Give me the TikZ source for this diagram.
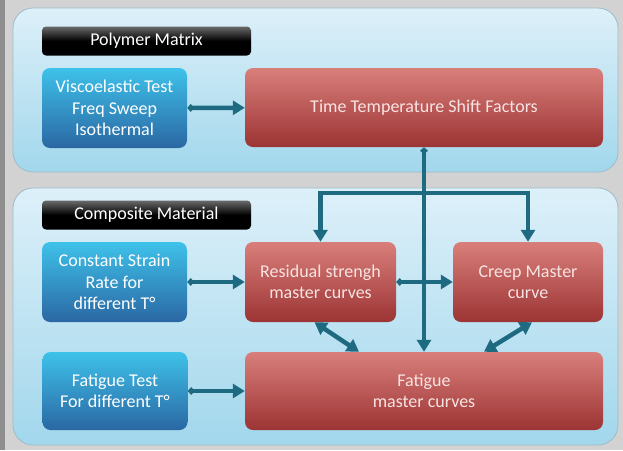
\documentclass[tikz,border=0pt]{standalone}
\usepackage{fontspec}
\setmainfont{Carlito}
\usepackage{xcolor}
\usepackage{tikz}
\usetikzlibrary{arrows.meta}
\definecolor{slidegray}{HTML}{D2D2D2}
\definecolor{stripgray}{HTML}{8E8E8E}
\definecolor{paneltop}{HTML}{DDF0F9}
\definecolor{panelbottom}{HTML}{A2D7EC}
\definecolor{panelline}{HTML}{9DBCC9}
\definecolor{bluetop}{HTML}{3EC2EA}
\definecolor{bluebottom}{HTML}{2A67A3}
\definecolor{redtop}{HTML}{D97F7B}
\definecolor{redmid}{HTML}{B9484A}
\definecolor{redbottom}{HTML}{9C3434}
\definecolor{tagtop}{HTML}{6A6A6A}
\definecolor{linkteal}{HTML}{1E6A80}
\definecolor{pinkwhite}{HTML}{F7E4E2}
\tikzstyle{every node}=[font=\fontsize{18}{21.5}\selectfont,inner sep=0pt,align=center]
\tikzstyle{panel}=[draw=panelline,line width=0.8pt,rounded corners=20pt,top color=paneltop,bottom color=panelbottom]
\tikzstyle{tag}=[rounded corners=4pt,top color=tagtop,bottom color=black,middle color=black,text=white,minimum width=209pt,minimum height=29pt]
\tikzstyle{testbox}=[rounded corners=8pt,top color=bluetop,bottom color=bluebottom,text=white,minimum width=145pt,minimum height=80pt]
\tikzstyle{resultbox}=[rounded corners=8pt,top color=redtop,middle color=redmid,bottom color=redbottom,text=pinkwhite,minimum height=80pt]
\tikzstyle{link}=[draw=linkteal,line width=4.5pt,-{Triangle[length=12pt,width=14pt]}]
\tikzstyle{startlink}=[draw=linkteal,line width=4.5pt,{Diamond[length=7pt,width=8pt]}-{Triangle[length=12pt,width=14pt]}]
\tikzstyle{bothlink}=[draw=linkteal,line width=4.5pt,{Triangle[length=12pt,width=14pt]}-{Triangle[length=12pt,width=14pt]}]

\begin{document}
\begin{tikzpicture}[x=1pt,y=-1pt]
		\useasboundingbox[fill=slidegray] (0,0) rectangle (623,450);
		\fill[stripgray] (0,0) rectangle (5,450);
		% panels
		\path[panel] (13,8) rectangle (618,172);
		\path[panel] (13,188) rectangle (618,445);
		% polymer matrix
		\node[tag] (polymer) at (146.5,41) {Polymer Matrix};
		\node[testbox] (visco) at (114.5,108) {Viscoelastic Test\\Freq Sweep\\Isothermal};
		\node[resultbox,minimum width=358pt,minimum height=79pt] (shift) at (424,107.5) {Time Temperature Shift Factors};
		% composite material
		\node[tag] (composite) at (146.5,215) {Composite Material};
		\node[testbox] (strain) at (114.5,282) {Constant Strain\\Rate for\\different T°};
		\node[resultbox,minimum width=151pt] (residual) at (320.5,282) {Residual strengh\\master curves};
		\node[resultbox,minimum width=150pt] (creep) at (528,282) {Creep Master\\curve};
		\node[testbox,minimum height=78pt] (fatiguetest) at (115,391) {Fatigue Test\\For different T°};
		\node[resultbox,minimum width=358pt,minimum height=78pt] (fatigue) at (424,391) {Fatigue\\master curves};
		\coordinate (split) at (424,193);
		% connectors
		\draw[startlink] (visco) -- (shift);
		\draw[startlink] (strain) -- (residual);
		\draw[startlink] (fatiguetest) -- (fatigue);
		\draw[startlink] (residual) -- (creep);
		\draw[startlink] (shift.south) -- (fatigue.north);
		\draw[link] (split) -| (residual.north);
		\draw[link] (split) -| (creep.north);
		\draw[bothlink] ([xshift=-6pt]residual.south) -- ([xshift=-65pt]fatigue.north);
		\draw[bothlink] ([xshift=4pt]creep.south) -- ([xshift=60pt]fatigue.north);
\end{tikzpicture}
\end{document}
